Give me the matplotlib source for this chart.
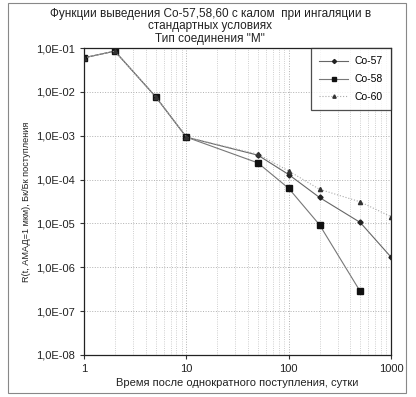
import math
import matplotlib
matplotlib.use("Agg")
from matplotlib import pyplot as plt
from matplotlib.patches import Rectangle
from matplotlib.ticker import FixedLocator, LogLocator, FuncFormatter, NullFormatter

# time after intake, days
days_57 = [1, 2, 5, 10, 50, 100, 200, 500, 1000]
co57 = [6.0e-2, 8.5e-2, 7.8e-3, 9.3e-4, 3.6e-4, 1.3e-4, 3.9e-5, 1.05e-5, 1.7e-6]

days_58 = [1, 2, 5, 10, 50, 100, 200, 500]
co58 = [6.0e-2, 8.5e-2, 7.8e-3, 9.3e-4, 2.4e-4, 6.3e-5, 9.3e-6, 2.8e-7]

days_60 = [1, 2, 5, 10, 50, 100, 200, 500, 1000]
co60 = [6.0e-2, 8.5e-2, 7.8e-3, 9.3e-4, 3.8e-4, 1.57e-4, 6.0e-5, 3.1e-5, 1.42e-5]

x_ticks = [1, 10, 100, 1000]
y_ticks = [1e-8, 1e-7, 1e-6, 1e-5, 1e-4, 1e-3, 1e-2, 1e-1]

title = 'Функции выведения Co-57,58,60 с калом  при ингаляции в\nстандартных условиях\nТип соединения "М"'
xlabel = "Время после однократного поступления, сутки"
ylabel = "R(t, АМАД=1 мкм), Бк/Бк поступления"


def sci_comma(v, pos):
    exp = int(round(math.log10(v)))
    return "1,0E%s%02d" % ("-" if exp < 0 else "+", abs(exp))


def main():
    plt.rcParams['font.family'] = ['Liberation Sans', 'DejaVu Sans']
    fig = plt.figure(figsize=(4.16, 3.97), dpi=100)
    ax = fig.add_axes([0.202, 0.106, 0.738, 0.773])

    ax.plot(days_57, co57, color='#666666', linewidth=0.8, marker='D', markersize=2.6,
            markerfacecolor='#222222', markeredgecolor='#222222', label='Co-57')
    ax.plot(days_58, co58, color='#777777', linewidth=0.8, marker='s', markersize=3.8,
            markerfacecolor='#111111', markeredgecolor='#111111', label='Co-58')
    ax.plot(days_60, co60, color='#aaaaaa', linewidth=0.8, linestyle=':', marker='^', markersize=3.0,
            markerfacecolor='#333333', markeredgecolor='#333333', label='Co-60')

    ax.set_xscale('log')
    ax.set_yscale('log')
    ax.set_xlim(1, 1000)
    ax.set_ylim(1e-8, 1e-1)

    ax.xaxis.set_major_locator(FixedLocator(x_ticks))
    ax.xaxis.set_major_formatter(FuncFormatter(lambda v, p: "%d" % v))
    ax.xaxis.set_minor_locator(LogLocator(base=10, subs=range(2, 10)))
    ax.xaxis.set_minor_formatter(NullFormatter())
    ax.yaxis.set_major_locator(FixedLocator(y_ticks))
    ax.yaxis.set_major_formatter(FuncFormatter(sci_comma))
    ax.yaxis.set_minor_locator(FixedLocator([]))

    ax.tick_params(axis='both', which='major', labelsize=8, length=3, color='#333333',
                   labelcolor='#222222')
    ax.tick_params(axis='x', which='minor', length=0)

    ax.grid(True, which='major', axis='both', color='#b0b0b0', linestyle=':', linewidth=0.7)
    ax.grid(True, which='minor', axis='x', color='#c0c0c0', linestyle=':', linewidth=0.6)

    for side in ax.spines.values():
        side.set_color('#222222')
        side.set_linewidth(0.9)

    fig.text(0.505, 0.981, title, fontsize=8.5, color='#222222', ha='center', va='top',
             linespacing=1.1)
    ax.set_xlabel(xlabel, fontsize=8, color='#222222', labelpad=3)
    ax.set_ylabel(ylabel, fontsize=6.6, color='#222222', labelpad=4)

    leg = ax.legend(loc='upper right', fontsize=7.5, frameon=True, fancybox=False,
                    borderpad=0.8, labelspacing=0.75, handlelength=2.8,
                    handletextpad=0.6, borderaxespad=0.0, markerscale=0.8)
    leg.get_frame().set_edgecolor('#222222')
    leg.get_frame().set_linewidth(0.9)

    # outer chart-area border
    fig.patches.append(Rectangle((0.02, 0.01), 0.955, 0.982, transform=fig.transFigure,
                                 fill=False, edgecolor='#888888', linewidth=0.8))

    plt.savefig("out.png", dpi=100)


if __name__ == "__main__":
    main()
